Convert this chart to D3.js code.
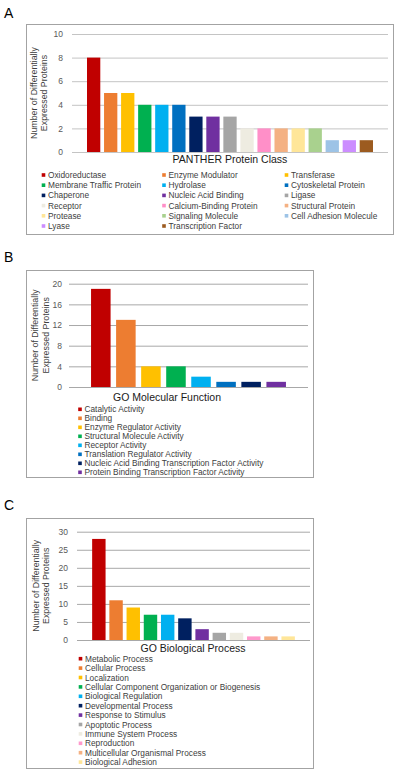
<!DOCTYPE html>
<html>
<head>
<meta charset="utf-8">
<script src="https://cdn.jsdelivr.net/npm/d3@7"></script>
<style>
  html, body { margin: 0; padding: 0; background: #fff; }
  svg { display: block; font-family: "Liberation Sans", Arial, sans-serif; }
</style>
</head>
<body>
<div id="chart"></div>
<script>
// Panel A - PANTHER protein class
const pantherClasses = ["Oxidoreductase", "Enzyme Modulator", "Transferase", "Membrane Traffic Protein",
    "Hydrolase", "Cytoskeletal Protein", "Chaperone", "Nucleic Acid Binding", "Ligase", "Receptor",
    "Calcium-Binding Protein", "Structural Protein", "Protease", "Signaling Molecule",
    "Cell Adhesion Molecule", "Lyase", "Transcription Factor"];
const pantherCounts = [8, 5, 5, 4, 4, 4, 3, 3, 3, 2, 2, 2, 2, 2, 1, 1, 1];
const pantherColors = ["#c00000", "#ed7d31", "#ffc000", "#00b050", "#00b0f0", "#0070c0", "#002060",
    "#7030a0", "#a5a5a5", "#eeece1", "#ff8fc8", "#f4b183", "#ffe699", "#a9d18e", "#9dc3e6",
    "#cc8dff", "#9c5b20"];
const pantherTicks = [0, 2, 4, 6, 8, 10];

// Panel B - GO molecular function
const mfTerms = ["Catalytic Activity", "Binding", "Enzyme Regulator Activity", "Structural Molecule Activity",
    "Receptor Activity", "Translation Regulator Activity",
    "Nucleic Acid Binding Transcription Factor Activity", "Protein Binding Transcription Factor Activity"];
const mfCounts = [19, 13, 4, 4, 2, 1, 1, 1];
const mfColors = ["#c00000", "#ed7d31", "#ffc000", "#00b050", "#00b0f0", "#0070c0", "#002060", "#7030a0"];
const mfTicks = [0, 4, 8, 12, 16, 20];

// Panel C - GO biological process
const bpTerms = ["Metabolic Process", "Cellular Process", "Localization",
    "Cellular Component Organization or Biogenesis", "Biological Regulation", "Developmental Process",
    "Response to Stimulus", "Apoptotic Process", "Immune System Process", "Reproduction",
    "Multicellular Organismal Process", "Biological Adhesion"];
const bpCounts = [28, 11, 9, 7, 7, 6, 3, 2, 2, 1, 1, 1];
const bpColors = ["#c00000", "#ed7d31", "#ffc000", "#00b050", "#00b0f0", "#002060", "#7030a0",
    "#a5a5a5", "#eeece1", "#ff99cc", "#f4b183", "#ffe699"];
const bpTicks = [0, 5, 10, 15, 20, 25, 30];

const yLabel = ["Number of Differentially", "Expressed Proteins"];

const svg = d3.select("#chart").append("svg")
    .attr("width", 398)
    .attr("height", 771);

function drawPanel(p) {
    const g = svg.append("g");

    g.append("text")
        .attr("x", 4)
        .attr("y", p.letterY)
        .style("font-size", "14px")
        .attr("fill", "#000")
        .text(p.letter);

    g.append("rect")
        .attr("x", p.frame[0] + 0.5)
        .attr("y", p.frame[1] + 0.5)
        .attr("width", p.frame[2])
        .attr("height", p.frame[3])
        .attr("fill", "none")
        .attr("stroke", "#a3a3a3")
        .attr("stroke-width", 1);

    const x = d3.scaleBand()
        .domain(p.cats)
        .range([p.plot.left, p.plot.right])
        .paddingInner(0.22)
        .paddingOuter(0.88);

    const y = d3.scaleLinear()
        .domain([0, d3.max(p.ticks)])
        .range([p.plot.bottom, p.plot.top]);

    const axis = g.append("g")
        .attr("transform", `translate(${p.plot.left},0)`)
        .call(d3.axisLeft(y)
            .tickValues(p.ticks)
            .tickSize(-(p.plot.right - p.plot.left))
            .tickPadding(p.tickPad));
    axis.select(".domain").remove();
    axis.selectAll(".tick line")
        .attr("stroke", p.gridColor)
        .attr("stroke-width", 1);
    axis.selectAll(".tick text")
        .attr("fill", "#595959")
        .style("font-size", "8.5px")
        .style("font-family", "Liberation Sans, Arial, sans-serif");

    g.selectAll("rect.bar")
        .data(p.values)
        .join("rect")
        .attr("class", "bar")
        .attr("x", (d, i) => x(p.cats[i]))
        .attr("y", d => y(d))
        .attr("width", x.bandwidth())
        .attr("height", d => y(0) - y(d))
        .attr("fill", (d, i) => p.colors[i]);

    // y axis title, two lines
    yLabel.forEach((t, i) => {
        g.append("text")
            .attr("transform", `translate(${p.yLabelX + i * 10.5},${(p.plot.top + p.plot.bottom) / 2}) rotate(-90)`)
            .attr("text-anchor", "middle")
            .attr("fill", "#404040")
            .style("font-size", "8.8px")
            .text(t);
    });

    g.append("text")
        .attr("x", p.titleX)
        .attr("y", p.titleY)
        .attr("text-anchor", "middle")
        .attr("fill", "#1a1a1a")
        .style("font-size", "10.5px")
        .text(p.title);

    // legend
    const items = g.selectAll("g.leg")
        .data(p.cats)
        .join("g")
        .attr("class", "leg")
        .attr("transform", (d, i) => {
            const col = i % p.legend.cols;
            const row = Math.floor(i / p.legend.cols);
            return `translate(${p.legend.colX[col]},${p.legend.y0 + row * p.legend.rowH})`;
        });

    items.append("rect")
        .attr("x", -1.8)
        .attr("y", -1.8)
        .attr("width", 3.6)
        .attr("height", 3.6)
        .attr("fill", (d, i) => p.colors[i]);

    items.append("text")
        .attr("x", 4.5)
        .attr("y", 3)
        .attr("fill", "#404040")
        .style("font-size", "8.3px")
        .text(d => d);
}

drawPanel({
    letter: "A", letterY: 18,
    frame: [26, 24, 367, 210],
    plot: { left: 72, right: 388, top: 34, bottom: 152 },
    cats: pantherClasses, values: pantherCounts, colors: pantherColors, ticks: pantherTicks,
    tickPad: 9, gridColor: "#c4c4c4",
    yLabelX: 36.5,
    title: "PANTHER Protein Class", titleX: 230, titleY: 163,
    legend: { cols: 3, colX: [43.5, 164, 286.5], y0: 175, rowH: 10.2 }
});

drawPanel({
    letter: "B", letterY: 262,
    frame: [26, 270, 287, 207],
    plot: { left: 69, right: 308, top: 283.7, bottom: 387 },
    cats: mfTerms, values: mfCounts, colors: mfColors, ticks: mfTicks,
    tickPad: 7, gridColor: "#a8a8a8",
    yLabelX: 38,
    title: "GO Molecular Function", titleX: 167, titleY: 400.5,
    legend: { cols: 1, colX: [80], y0: 409.3, rowH: 9 }
});

drawPanel({
    letter: "C", letterY: 510,
    frame: [26, 518, 287, 250],
    plot: { left: 77, right: 310, top: 531.7, bottom: 640 },
    cats: bpTerms, values: bpCounts, colors: bpColors, ticks: bpTicks,
    tickPad: 9, gridColor: "#a8a8a8",
    yLabelX: 38.5,
    title: "GO Biological Process", titleX: 193, titleY: 652,
    legend: { cols: 1, colX: [80.5], y0: 658.7, rowH: 9.4 }
});
</script>
</body>
</html>
